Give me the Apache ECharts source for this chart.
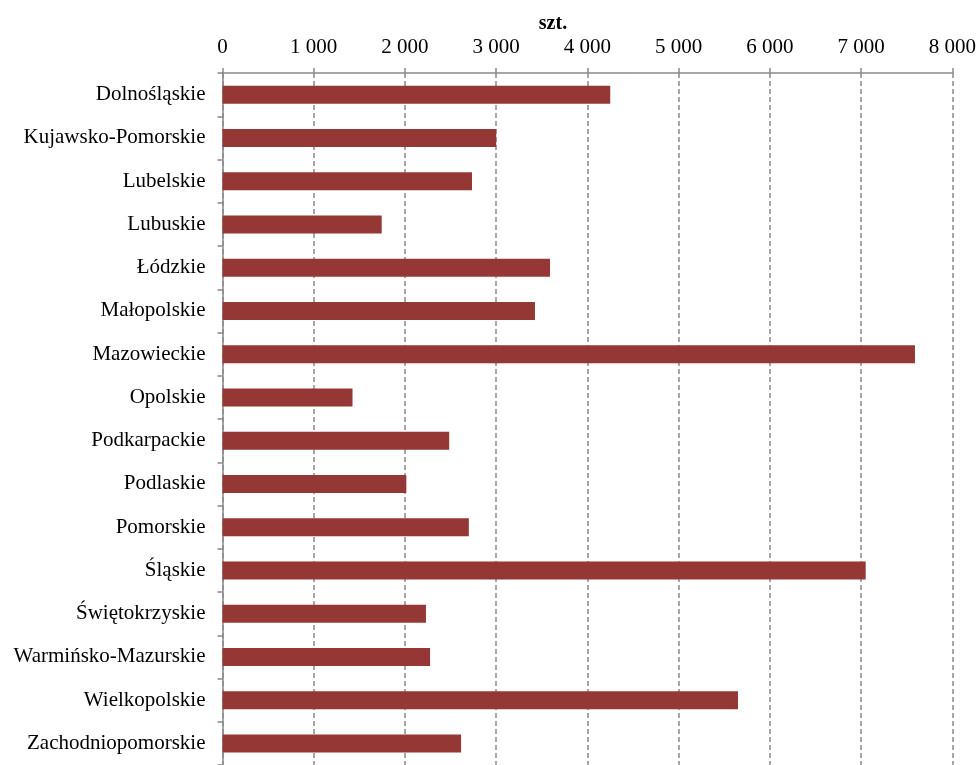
<!DOCTYPE html>
<html>
<head>
<meta charset="utf-8">
<script src="https://cdn.jsdelivr.net/npm/echarts@6/dist/echarts.min.js"></script>
<style>
  html, body { margin: 0; padding: 0; background: #fff; }
  #container { width: 979px; height: 765px; }
</style>
</head>
<body>
<div id="container"></div>
<script>
// województwa
var categories = ['Dolnośląskie', 'Kujawsko-Pomorskie', 'Lubelskie', 'Lubuskie', 'Łódzkie',
  'Małopolskie', 'Mazowieckie', 'Opolskie', 'Podkarpackie', 'Podlaskie', 'Pomorskie',
  'Śląskie', 'Świętokrzyskie', 'Warmińsko-Mazurskie', 'Wielkopolskie', 'Zachodniopomorskie'];
// wartości w szt.
var values = [4250, 3000, 2735, 1745, 3590, 3425, 7590, 1425, 2485, 2015, 2700,
  7050, 2230, 2275, 5650, 2615];
var xTicks = [0, 1000, 2000, 3000, 4000, 5000, 6000, 7000, 8000];

var myChart = echarts.init(document.getElementById('container'));
var font = '"Liberation Serif", "Times New Roman", serif';
var gray = '#898989';

myChart.setOption({
  animation: false,
  textStyle: { fontFamily: font },
  title: {
    text: 'szt.',
    left: 548, top: 9,
    textAlign: 'center',
    textStyle: { fontFamily: font, fontSize: 20, fontWeight: 'bold', color: '#000' }
  },
  grid: { left: 222.5, right: 26, top: 73, bottom: -7, containLabel: false },
  xAxis: {
    type: 'value',
    position: 'top',
    min: xTicks[0],
    max: xTicks[xTicks.length - 1],
    interval: 1000,
    axisLine: { show: true, lineStyle: { color: gray, width: 1.5 } },
    axisTick: { show: true, length: 5, lineStyle: { color: gray, width: 1.5 } },
    axisLabel: {
      color: '#000', fontSize: 21, fontFamily: font, margin: 15,
      formatter: function (v) { return String(v).replace(/\B(?=(\d{3})+(?!\d))/g, ' '); }
    },
    splitLine: { show: true, lineStyle: { color: gray, type: [5, 3], width: 1.5 } }
  },
  yAxis: {
    type: 'category',
    data: categories,
    inverse: true,
    axisLine: { show: true, lineStyle: { color: gray, width: 1.5 } },
    axisTick: { show: true, length: 5, lineStyle: { color: gray, width: 1.5 } },
    axisLabel: { color: '#000', fontSize: 21, fontFamily: font, margin: 17 },
    splitLine: { show: false }
  },
  series: [{
    type: 'bar',
    data: values,
    barWidth: 18,
    itemStyle: { color: '#953735' }
  }]
});
</script>
</body>
</html>
